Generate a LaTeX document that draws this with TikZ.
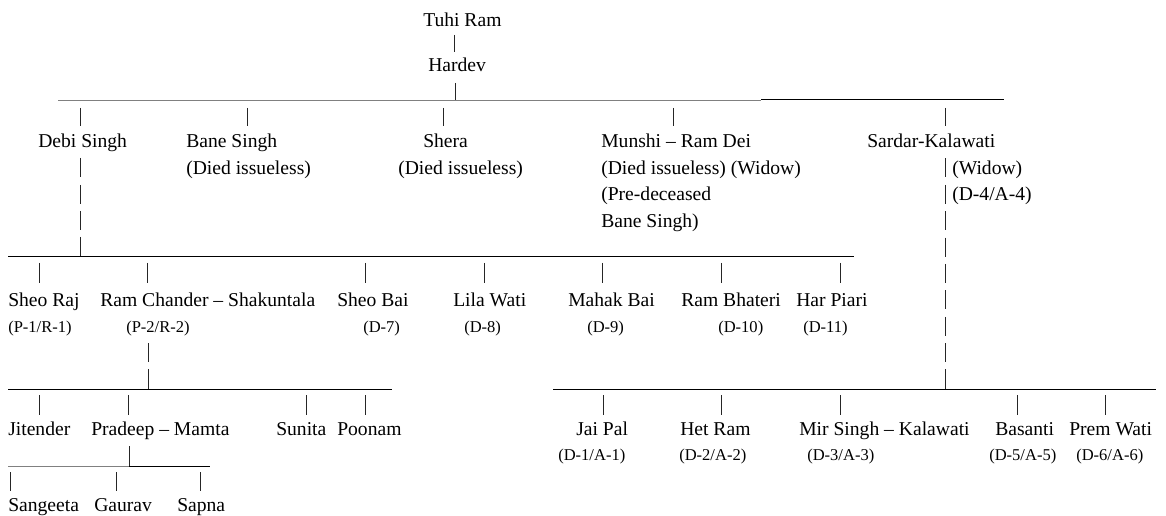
\documentclass[tikz,border=0pt]{standalone}
\usepackage{fontspec}
\setmainfont{Liberation Serif}
\newcommand\fvbar[3]{\draw[pipe] (#1,#2) -- (#1,#3);}
\begin{document}
\begin{tikzpicture}[x=0.75pt,y=-0.75pt,
  nm/.style={anchor=base west, inner sep=0pt, font=\fontsize{14.7}{17}\selectfont},
  sm/.style={anchor=base west, inner sep=0pt, font=\fontsize{12.4}{14}\selectfont},
  bar/.style={line width=0.75pt, black},
  lightbar/.style={line width=0.6pt, black!50},
  pipe/.style={line width=0.7pt, black!85}]
\useasboundingbox (0,0) rectangle (1166,516);
\fill[white] (0,0) rectangle (1166,516);

% ---- generation 1 and 2
\node[nm] (tuhi) at (423,27) {Tuhi Ram};
\node[nm] (hardev) at (428,72) {Hardev};
\fvbar{454}{35}{52}
\fvbar{455}{83}{100}

\coordinate (b1L) at (58,100);
\coordinate (b1M) at (761,100);
\coordinate (b1R) at (1004,100);
\draw[lightbar] (b1L) -- (b1M);
\draw[bar] (b1M) -- (b1R);

\foreach \x in {80,247,443,673,945} {\fvbar{\x}{108}{126}}

% ---- generation 3
\node[nm] (debi) at (38,148) {Debi Singh};
\node[nm] (bane) at (186,148) {Bane Singh};
\node[nm] (baneA) at (186,174.4) {(Died issueless)};
\node[nm] (shera) at (423,148) {Shera};
\node[nm] (sheraA) at (398,174.4) {(Died issueless)};
\node[nm] (munshi) at (601,148) {Munshi – Ram Dei};
\node[nm] (munshiA) at (601,174.4) {(Died issueless) (Widow)};
\node[nm] (munshiB) at (601,200.8) {(Pre-deceased};
\node[nm] (munshiC) at (601,227.2) {Bane Singh)};
\node[nm] (sardar) at (867,148) {Sardar-Kalawati};
\node[nm] (sardarA) at (952,174.4) {(Widow)};
\node[nm] (sardarB) at (952,200.8) {(D-4/A-4)};

% Debi Singh column
\fvbar{80}{158}{177}
\fvbar{80}{185}{204}
\fvbar{80}{211}{230}
\fvbar{80}{237}{257}

% Sardar column
\foreach \b in {174.4,200.8,227.2,253.6,280,306.4,332.8,359.2} {\fvbar{945}{\b-16}{\b+3}}
\fvbar{945}{369}{389}

% ---- Debi Singh's children
\coordinate (b2L) at (8,257);
\coordinate (b2R) at (854,257);
\draw[bar] (b2L) -- (b2R);
\foreach \x in {39,147,365,484,602,721,840} {\fvbar{\x}{263}{283}}

\node[nm] (sheoraj) at (8,307) {Sheo Raj};
\node[nm] (ramch) at (100,307) {Ram Chander – Shakuntala};
\node[nm] (sheobai) at (337,307) {Sheo Bai};
\node[nm] (lila) at (453,307) {Lila Wati};
\node[nm] (mahak) at (568,307) {Mahak Bai};
\node[nm] (bhateri) at (681,307) {Ram Bhateri};
\node[nm] (harpiari) at (796,307) {Har Piari};

\node[sm] (sheorajA) at (8,332) {(P-1/R-1)};
\node[sm] (ramchA) at (126,332) {(P-2/R-2)};
\node[sm] (sheobaiA) at (363,332) {(D-7)};
\node[sm] (lilaA) at (464,332) {(D-8)};
\node[sm] (mahakA) at (587,332) {(D-9)};
\node[sm] (bhateriA) at (718,332) {(D-10)};
\node[sm] (harpiariA) at (803,332) {(D-11)};

\fvbar{148}{343}{362}
\fvbar{148}{369}{389}

% ---- Ram Chander's children
\coordinate (b3L) at (8,389);
\coordinate (b3R) at (392,389);
\draw[bar] (b3L) -- (b3R);
\foreach \x in {39,128,306,365} {\fvbar{\x}{395}{415}}

\node[nm] (jitender) at (8,435) {Jitender};
\node[nm] (pradeep) at (91,435) {Pradeep – Mamta};
\node[nm] (sunita) at (276,435) {Sunita};
\node[nm] (poonam) at (337,435) {Poonam};

\fvbar{129}{446}{466}

% ---- Pradeep's children
\coordinate (b4L) at (8,466);
\coordinate (b4M) at (129,466);
\coordinate (b4R) at (210,466);
\draw[lightbar] (b4L) -- (b4M);
\draw[bar] (b4M) -- (b4R);
\foreach \x in {10,116,200} {\fvbar{\x}{472}{491}}

\node[nm] (sangeeta) at (8,511) {Sangeeta};
\node[nm] (gaurav) at (94,511) {Gaurav};
\node[nm] (sapna) at (177,511) {Sapna};

% ---- Sardar's children
\coordinate (b5L) at (553,389);
\coordinate (b5R) at (1156,389);
\draw[bar] (b5L) -- (b5R);
\foreach \x in {603,721,840,1017,1105} {\fvbar{\x}{395}{415}}

\node[nm] (jaipal) at (576,435) {Jai Pal};
\node[nm] (hetram) at (680,435) {Het Ram};
\node[nm] (mirsingh) at (799,435) {Mir Singh – Kalawati};
\node[nm] (basanti) at (995,435) {Basanti};
\node[nm] (premwati) at (1069,435) {Prem Wati};

\node[sm] (jaipalA) at (558,460) {(D-1/A-1)};
\node[sm] (hetramA) at (679,460) {(D-2/A-2)};
\node[sm] (mirsinghA) at (807,460) {(D-3/A-3)};
\node[sm] (basantiA) at (989,460) {(D-5/A-5)};
\node[sm] (premwatiA) at (1076,460) {(D-6/A-6)};
\end{tikzpicture}
\end{document}
